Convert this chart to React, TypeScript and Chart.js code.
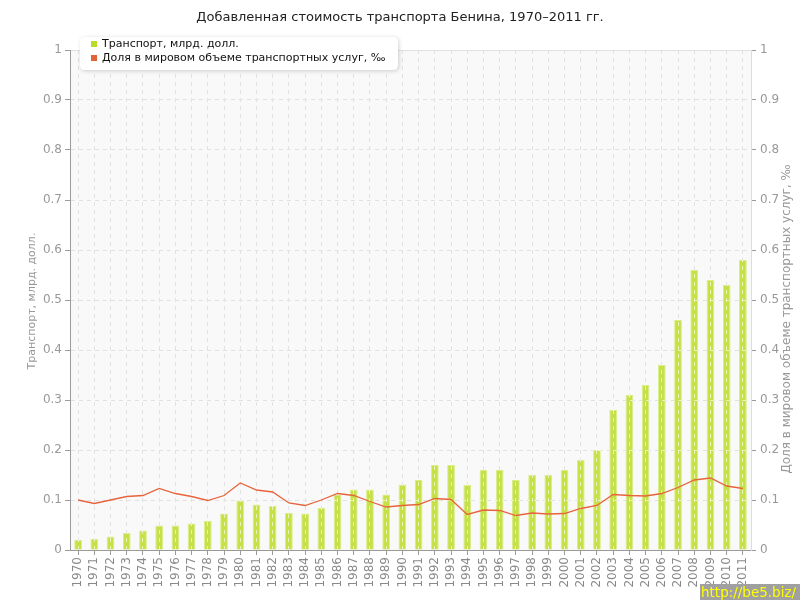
import React, { useEffect, useRef } from "react";
import { Chart, registerables } from "chart.js";

Chart.register(...registerables);

const years = [
  "1970", "1971", "1972", "1973", "1974", "1975", "1976", "1977", "1978", "1979",
  "1980", "1981", "1982", "1983", "1984", "1985", "1986", "1987", "1988", "1989",
  "1990", "1991", "1992", "1993", "1994", "1995", "1996", "1997", "1998", "1999",
  "2000", "2001", "2002", "2003", "2004", "2005", "2006", "2007", "2008", "2009",
  "2010", "2011",
];

const transport = [
  0.02, 0.022, 0.027, 0.034, 0.039, 0.049, 0.049, 0.053, 0.058, 0.073,
  0.099, 0.091, 0.088, 0.074, 0.073, 0.084, 0.111, 0.121, 0.121, 0.111,
  0.131, 0.14, 0.17, 0.17, 0.13, 0.16, 0.16, 0.14, 0.15, 0.15,
  0.16, 0.18, 0.2, 0.28, 0.31, 0.33, 0.37, 0.46, 0.56, 0.54,
  0.53, 0.58,
];

const share = [
  0.1, 0.093, 0.1, 0.107, 0.109, 0.123, 0.113, 0.107, 0.099, 0.109,
  0.134, 0.12, 0.116, 0.094, 0.089, 0.1, 0.113, 0.109, 0.097, 0.086,
  0.089, 0.091, 0.103, 0.101, 0.071, 0.08, 0.079, 0.069, 0.074, 0.072,
  0.073, 0.083, 0.089, 0.111, 0.109, 0.108, 0.113, 0.125, 0.14, 0.144,
  0.128, 0.123,
];

const titleText = "Добавленная стоимость транспорта Бенина, 1970–2011 гг.";
const seriesBarName = "Транспорт, млрд. долл.";
const seriesLineName = "Доля в мировом объеме транспортных услуг, ‰";
const leftAxisTitle = "Транспорт, млрд. долл.";
const rightAxisTitle = "Доля в мировом объеме транспортных услуг, ‰";
const watermark = "http://be5.biz/";

const FONT = "'DejaVu Sans', Verdana, sans-serif";
const BAR_FILL = "#c6e048";
const BAR_BORDER = "#d9ee8a";
const LINE_COLOR = "#e8643c";
const GRID = "#e2e2e2";
const AXIS = "#9a9a9a";
const TICK_TXT = "#999999";

const alignPx = (v: number) => Math.round(v - 0.5) + 0.5;

const backgroundPlugin = {
  id: "bgPlugin",
  beforeDraw(chart: any) {
    const { ctx, chartArea: a, width, height } = chart;
    ctx.save();
    ctx.fillStyle = "#ffffff";
    ctx.fillRect(0, 0, width, height);
    ctx.fillStyle = "#f9f9f9";
    ctx.fillRect(a.left, a.top, a.right - a.left, a.bottom - a.top);
    ctx.strokeStyle = "#e0e0e0";
    ctx.lineWidth = 1;
    ctx.beginPath();
    ctx.moveTo(a.left, alignPx(a.top));
    ctx.lineTo(a.right, alignPx(a.top));
    ctx.stroke();
    ctx.restore();
  },
};

const barGridOverlay = {
  id: "barGridOverlay",
  afterDatasetDraw(chart: any, args: any) {
    if (args.index !== 0) return;
    const { ctx, chartArea: a } = chart;
    const meta = chart.getDatasetMeta(0);
    const yScale = chart.scales.y;
    ctx.save();
    ctx.strokeStyle = "rgba(255,255,255,0.6)";
    ctx.lineWidth = 1;
    ctx.setLineDash([4, 4]);
    meta.data.forEach((el: any) => {
      const p = el.getProps(["x", "y", "base", "width"], true);
      ctx.save();
      ctx.beginPath();
      ctx.rect(p.x - p.width / 2, p.y, p.width, p.base - p.y);
      ctx.clip();
      ctx.beginPath();
      const xx = alignPx(p.x);
      ctx.moveTo(xx, a.top);
      ctx.lineTo(xx, a.bottom);
      ctx.stroke();
      yScale.ticks.forEach((t: any) => {
        const yy = alignPx(yScale.getPixelForValue(t.value));
        ctx.beginPath();
        ctx.moveTo(a.left, yy);
        ctx.lineTo(a.right, yy);
        ctx.stroke();
      });
      ctx.restore();
    });
    ctx.restore();
  },
};

const decorPlugin = {
  id: "decorPlugin",
  afterDraw(chart: any) {
    const { ctx } = chart;
    ctx.save();
    // title
    ctx.fillStyle = "#222222";
    ctx.font = `13px ${FONT}`;
    ctx.textAlign = "center";
    ctx.textBaseline = "middle";
    ctx.fillText(titleText, 400, 18);

    // axis titles
    ctx.fillStyle = TICK_TXT;
    ctx.font = `11px ${FONT}`;
    ctx.save();
    ctx.translate(32, 301);
    ctx.rotate(-Math.PI / 2);
    ctx.fillText(leftAxisTitle, 0, 0);
    ctx.restore();
    ctx.font = `12px ${FONT}`;
    ctx.save();
    ctx.translate(787, 319);
    ctx.rotate(-Math.PI / 2);
    ctx.fillText(rightAxisTitle, 0, 0);
    ctx.restore();

    // legend box
    const lx = 80, ly = 37, lw = 318, lh = 33, r = 5;
    ctx.save();
    ctx.shadowColor = "rgba(0,0,0,0.18)";
    ctx.shadowBlur = 4;
    ctx.shadowOffsetX = 1;
    ctx.shadowOffsetY = 1;
    ctx.fillStyle = "#ffffff";
    ctx.beginPath();
    ctx.moveTo(lx + r, ly);
    ctx.lineTo(lx + lw - r, ly);
    ctx.quadraticCurveTo(lx + lw, ly, lx + lw, ly + r);
    ctx.lineTo(lx + lw, ly + lh - r);
    ctx.quadraticCurveTo(lx + lw, ly + lh, lx + lw - r, ly + lh);
    ctx.lineTo(lx + r, ly + lh);
    ctx.quadraticCurveTo(lx, ly + lh, lx, ly + lh - r);
    ctx.lineTo(lx, ly + r);
    ctx.quadraticCurveTo(lx, ly, lx + r, ly);
    ctx.closePath();
    ctx.fill();
    ctx.restore();

    ctx.fillStyle = "#b8dc2a";
    ctx.fillRect(91, 41, 6, 6);
    ctx.fillStyle = "#e0643a";
    ctx.fillRect(91, 55, 6, 6);
    ctx.fillStyle = "#111111";
    ctx.font = `11px ${FONT}`;
    ctx.textAlign = "left";
    ctx.fillText(seriesBarName, 102, 44);
    ctx.fillText(seriesLineName, 102, 58);

    // watermark
    ctx.fillStyle = "#a0a0a0";
    ctx.fillRect(700, 584, 100, 16);
    ctx.fillStyle = "#ffff00";
    ctx.font = `13.5px ${FONT}`;
    ctx.textAlign = "left";
    ctx.fillText(watermark, 701, 593);
    ctx.restore();
  },
};

const tickFmt = (v: any) => String(Number(Number(v).toFixed(1)));

export default function App() {
  const ref = useRef<HTMLCanvasElement | null>(null);

  useEffect(() => {
    document.body.style.margin = "0";
    if (!ref.current) return;
    const chart = new Chart(ref.current, {
      type: "bar",
      data: {
        labels: years,
        datasets: [
          {
            type: "bar",
            label: seriesBarName,
            data: transport,
            yAxisID: "y",
            backgroundColor: BAR_FILL,
            borderColor: BAR_BORDER,
            borderWidth: 1,
            barPercentage: 0.48,
            categoryPercentage: 1,
            order: 1,
          },
          {
            type: "line",
            label: seriesLineName,
            data: share,
            yAxisID: "y2",
            borderColor: LINE_COLOR,
            borderWidth: 1.3,
            pointRadius: 0,
            tension: 0,
            fill: false,
            order: 0,
          } as any,
        ],
      },
      options: {
        responsive: false,
        animation: false,
        devicePixelRatio: 1,
        layout: { padding: { top: 50, left: 0, right: 0, bottom: 0 } },
        plugins: {
          legend: { display: false },
          title: { display: false },
          tooltip: { enabled: false },
        },
        scales: {
          x: {
            type: "category",
            offset: true,
            afterFit: (s: any) => {
              s.height = 50;
            },
            grid: {
              offset: false,
              color: GRID,
              tickColor: AXIS,
              tickLength: 5,
              drawTicks: true,
            },
            border: { display: true, color: AXIS, dash: [4, 4] },
            ticks: {
              color: "#8a8a8a",
              font: { family: FONT, size: 12 },
              minRotation: 90,
              maxRotation: 90,
              autoSkip: false,
              padding: 2,
            },
          },
          y: {
            type: "linear",
            position: "left",
            min: 0,
            max: 1,
            afterFit: (s: any) => {
              s.width = 70;
            },
            grid: {
              color: GRID,
              tickColor: AXIS,
              tickLength: 5,
              drawTicks: true,
            },
            border: { display: true, color: AXIS, dash: [4, 4] },
            ticks: {
              stepSize: 0.1,
              color: TICK_TXT,
              font: { family: FONT, size: 12 },
              padding: 3,
              callback: tickFmt,
            },
          },
          y2: {
            type: "linear",
            position: "right",
            min: 0,
            max: 1,
            afterFit: (s: any) => {
              s.width = 49;
            },
            grid: {
              drawOnChartArea: false,
              tickColor: AXIS,
              tickLength: 5,
              drawTicks: true,
            },
            border: { display: true, color: "#dddddd" },
            ticks: {
              stepSize: 0.1,
              color: TICK_TXT,
              font: { family: FONT, size: 12 },
              padding: 4,
              callback: tickFmt,
            },
          },
        },
      },
      plugins: [backgroundPlugin, barGridOverlay, decorPlugin],
    });
    return () => chart.destroy();
  }, []);

  return (
    <div style={{ width: 800, height: 600 }}>
      <canvas ref={ref} width={800} height={600} style={{ display: "block" }} />
    </div>
  );
}
